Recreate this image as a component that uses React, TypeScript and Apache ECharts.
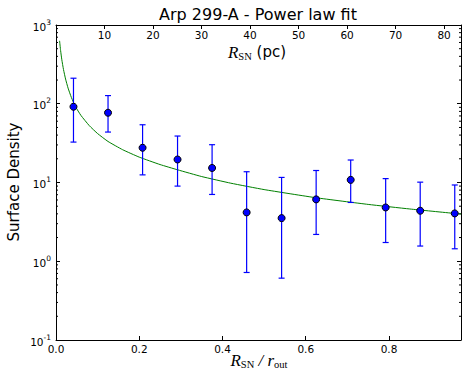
import React, { useEffect, useRef } from "react";
import * as echarts from "echarts";

// Data points: x = R_SN / r_out, y = surface density
const xNorm = [0.042, 0.125, 0.208, 0.292, 0.375, 0.458, 0.542, 0.625, 0.708, 0.792, 0.875, 0.958];
const density = [91.6, 76.9, 27.6, 19.6, 15.3, 4.17, 3.53, 6.1, 10.8, 4.82, 4.38, 4.05];
const errLow = [32.6, 43.7, 12.5, 9.0, 7.05, 0.72, 0.61, 2.19, 5.58, 1.73, 1.56, 1.44];
const errHigh = [211, 127, 54.1, 38.9, 30.2, 13.7, 11.6, 14.2, 19.3, 11.2, 10.1, 9.3];

// Power-law fit curve
const fitX = [0.0086, 0.011, 0.014, 0.018, 0.023, 0.029, 0.037, 0.0467, 0.06, 0.08, 0.1, 0.125, 0.16, 0.2, 0.25, 0.292, 0.35, 0.42, 0.5, 0.625, 0.75, 0.85, 0.957, 0.973];
const fitY = [630, 476, 362, 272, 206, 158, 120, 92, 71, 52.7, 41.8, 33.2, 26.1, 21.0, 16.9, 14.5, 11.9, 9.8, 8.13, 6.4, 5.27, 4.61, 4.05, 3.98];

// Axes
const xMax = 0.973;
const rOutPc = 85.8;
const yMin = 0.1;
const yMax = 1000;
const minorMultipliers = [2, 3, 4, 5, 6, 7, 8, 9];
const decades = [0.1, 1, 10, 100];

export default function App() {
  const ref = useRef<HTMLDivElement>(null);
  useEffect(() => {
    const chart = echarts.init(ref.current!, null, { renderer: "svg" });
    const minorVals: number[][] = [];
    decades.forEach((d) => minorMultipliers.forEach((m) => minorVals.push([0, d * m])));

    const axisLine = { show: true, onZero: false, lineStyle: { color: "#000", width: 1 } };
    const sans = "DejaVu Sans";

    const option: any = {
      animation: false,
      grid: { left: 56, right: 1, top: 25, bottom: 34, containLabel: false },
      xAxis: [
        {
          type: "value",
          position: "bottom",
          min: 0,
          max: xMax,
          interval: 0.2,
          axisLine,
          axisTick: { show: true, inside: true, length: 4, lineStyle: { color: "#000" } },
          axisLabel: {
            color: "#000",
            fontSize: 10.5,
            fontFamily: sans,
            margin: 3,
            showMaxLabel: false,
            formatter: (v: number) => (Math.abs(v * 5 - Math.round(v * 5)) < 1e-6 ? v.toFixed(1) : ""),
          },
          splitLine: { show: false },
        },
        {
          type: "value",
          position: "top",
          min: 0,
          max: xMax * rOutPc,
          interval: 10,
          axisLine,
          axisTick: { show: true, inside: true, length: 4, lineStyle: { color: "#000" } },
          axisLabel: {
            inside: true,
            color: "#000",
            fontSize: 10.5,
            fontFamily: sans,
            margin: 4,
            showMinLabel: false,
            showMaxLabel: false,
            formatter: (v: number) => (v > 0 && v % 10 === 0 ? String(v) : ""),
          },
          splitLine: { show: false },
        },
      ],
      yAxis: [
        {
          type: "log",
          logBase: 10,
          position: "left",
          min: yMin,
          max: yMax,
          axisLine,
          axisTick: { show: true, inside: true, length: 4, lineStyle: { color: "#000" } },
          axisLabel: {
            margin: 5,
            formatter: (v: number) => "{b|10}{s|" + Math.round(Math.log10(v)) + "}",
            rich: {
              b: { fontSize: 10.5, fontFamily: sans, color: "#000", verticalAlign: "bottom", lineHeight: 14 },
              s: { fontSize: 7.5, fontFamily: sans, color: "#000", verticalAlign: "top", lineHeight: 9 },
            },
          },
          splitLine: { show: false },
        },
        {
          type: "log",
          logBase: 10,
          position: "right",
          min: yMin,
          max: yMax,
          axisLine,
          axisTick: { show: true, inside: true, length: 4, lineStyle: { color: "#000" } },
          axisLabel: { show: false },
          splitLine: { show: false },
        },
      ],
      graphic: [
        {
          type: "text",
          x: 258,
          y: 14,
          style: {
            text: "Arp 299-A - Power law fit",
            fontSize: 16,
            fontFamily: sans,
            fill: "#000",
            align: "center",
            verticalAlign: "middle",
          },
        },
        {
          type: "text",
          x: 14,
          y: 182,
          rotation: Math.PI / 2,
          style: {
            text: "Surface Density",
            fontSize: 15,
            fontFamily: sans,
            fill: "#000",
            align: "center",
            verticalAlign: "middle",
          },
        },
        {
          type: "text",
          x: 257,
          y: 53,
          style: {
            text: "{i|R}{s|SN}{n| (pc)}",
            align: "center",
            verticalAlign: "middle",
            rich: {
              i: { fontSize: 17, fontFamily: "Liberation Serif", fontStyle: "italic", fill: "#000", verticalAlign: "top", lineHeight: 18 },
              s: { fontSize: 10.5, fontFamily: "Liberation Serif", fill: "#000", verticalAlign: "bottom", lineHeight: 12 },
              n: { fontSize: 15, fontFamily: sans, fill: "#000", verticalAlign: "top", lineHeight: 18 },
            },
          },
        },
        {
          type: "text",
          x: 259,
          y: 361,
          style: {
            text: "{i|R}{s|SN}{i| / r}{s|out}",
            align: "center",
            verticalAlign: "middle",
            rich: {
              i: { fontSize: 17, fontFamily: "Liberation Serif", fontStyle: "italic", fill: "#000", verticalAlign: "top", lineHeight: 18 },
              s: { fontSize: 10.5, fontFamily: "Liberation Serif", fill: "#000", verticalAlign: "bottom", lineHeight: 12 },
            },
          },
        },
      ],
      series: [
        {
          type: "line",
          xAxisIndex: 0,
          yAxisIndex: 0,
          data: fitX.map((x, i) => [x, fitY[i]]),
          showSymbol: false,
          smooth: 0.15,
          lineStyle: { color: "#008000", width: 1 },
          z: 2,
          silent: true,
        },
        {
          type: "custom",
          xAxisIndex: 0,
          yAxisIndex: 0,
          data: xNorm.map((x, i) => [x, errLow[i], errHigh[i]]),
          encode: { x: 0, y: [1, 2] },
          renderItem: (params: any, api: any) => {
            const x = api.value(0);
            const lo = api.coord([x, api.value(1)]);
            const hi = api.coord([x, api.value(2)]);
            const w = 3;
            const style = { stroke: "#0000ff", lineWidth: 1.2 };
            return {
              type: "group",
              children: [
                { type: "line", shape: { x1: lo[0], y1: lo[1], x2: hi[0], y2: hi[1] }, style },
                { type: "line", shape: { x1: hi[0] - w, y1: hi[1], x2: hi[0] + w, y2: hi[1] }, style },
                { type: "line", shape: { x1: lo[0] - w, y1: lo[1], x2: lo[0] + w, y2: lo[1] }, style },
              ],
            };
          },
          z: 3,
          silent: true,
        },
        {
          type: "scatter",
          xAxisIndex: 0,
          yAxisIndex: 0,
          data: xNorm.map((x, i) => [x, density[i]]),
          symbol: "circle",
          symbolSize: 7,
          itemStyle: { color: "#0000ff", borderColor: "#000", borderWidth: 1, opacity: 1 },
          z: 5,
          silent: true,
        },
        {
          type: "custom",
          xAxisIndex: 0,
          yAxisIndex: 0,
          data: minorVals,
          encode: { x: 0, y: 1 },
          renderItem: (params: any, api: any) => {
            const y = api.coord([0, api.value(1)])[1];
            const cs = params.coordSys;
            const style = { stroke: "#000", lineWidth: 1 };
            return {
              type: "group",
              children: [
                { type: "line", shape: { x1: cs.x, y1: y, x2: cs.x + 2, y2: y }, style },
                { type: "line", shape: { x1: cs.x + cs.width - 2, y1: y, x2: cs.x + cs.width, y2: y }, style },
              ],
            };
          },
          z: 1,
          silent: true,
        },
      ],
    };
    chart.setOption(option);
    return () => chart.dispose();
  }, []);
  return <div ref={ref} style={{ position: "absolute", left: 0, top: 0, width: 462, height: 374 }} />;
}
